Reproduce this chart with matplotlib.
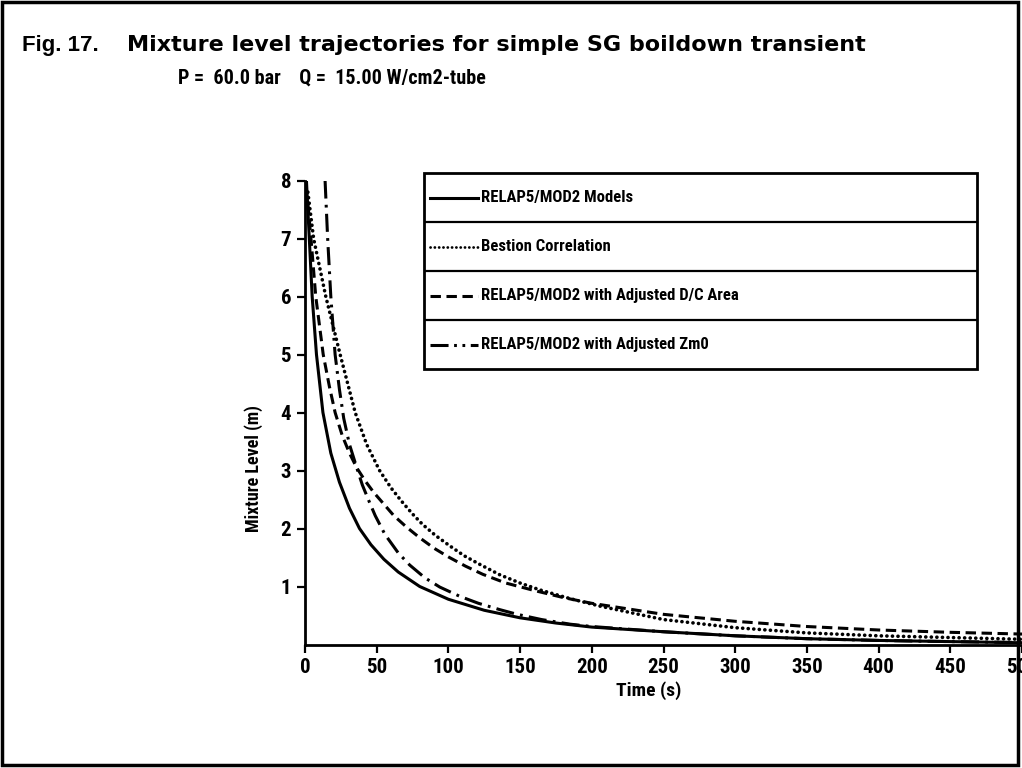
import matplotlib
matplotlib.use("Agg")
import matplotlib.pyplot as plt
from matplotlib import font_manager
from matplotlib.patches import Rectangle

# ---------------- data ----------------
fig_number = "Fig. 17."
title = "Mixture level trajectories for simple SG boildown transient"
subtitle = "P =  60.0 bar    Q =  15.00 W/cm2-tube"
x_label = "Time (s)"
y_label = "Mixture Level (m)"
x_ticks = [0, 50, 100, 150, 200, 250, 300, 350, 400, 450, 500]
x_tick_labels = ["0", "50", "100", "150", "200", "250", "300", "350", "400", "450", "500"]
y_ticks = [1, 2, 3, 4, 5, 6, 7, 8]
y_tick_labels = ["1", "2", "3", "4", "5", "6", "7", "8"]
series_names = ["RELAP5/MOD2 Models",
                "Bestion Correlation",
                "RELAP5/MOD2 with Adjusted D/C Area",
                "RELAP5/MOD2 with Adjusted Zm0"]

t_relap = [1, 3, 5, 8, 12.5, 18, 24, 31, 38, 46, 55, 65, 80, 100, 125, 150,
           175, 200, 250, 300, 350, 400, 450, 500]
y_relap = [8.0, 7.0, 6.0, 5.0, 4.0, 3.3, 2.8, 2.35, 2.0, 1.72, 1.47, 1.25, 1.0,
           0.78, 0.59, 0.46, 0.37, 0.30, 0.22, 0.15, 0.10, 0.07, 0.05, 0.03]

t_bestion = [2, 6, 14.5, 24.5, 35, 43, 52, 60, 67, 75, 82, 91, 101, 111, 122,
             136, 150, 164, 185, 206, 250, 300, 350, 400, 450, 500]
y_bestion = [7.8, 7.0, 6.0, 5.0, 4.0, 3.45, 3.0, 2.7, 2.48, 2.25, 2.07, 1.88,
             1.7, 1.53, 1.38, 1.2, 1.06, 0.94, 0.79, 0.66, 0.43, 0.29, 0.20,
             0.15, 0.12, 0.09]

t_dc_area = [2, 4.5, 7.5, 12.7, 17, 21, 26, 31, 36, 42, 48, 55, 62, 71, 80, 90,
             100, 112, 124, 140, 160, 180, 200, 250, 300, 350, 400, 450, 500]
y_dc_area = [7.6, 6.9, 6.0, 5.0, 4.45, 4.0, 3.6, 3.3, 3.05, 2.82, 2.62, 2.42,
             2.22, 2.02, 1.84, 1.66, 1.51, 1.35, 1.21, 1.06, 0.93, 0.81, 0.71,
             0.52, 0.40, 0.31, 0.25, 0.21, 0.18]

t_zm0 = [14, 15.8, 18, 21, 24, 27, 31, 36.7, 40, 45, 49, 55.7, 65, 73, 83.6,
         94, 108, 121, 136, 148, 165, 185, 200, 250, 300, 350, 400, 450, 500]
y_zm0 = [8.0, 7.0, 6.0, 5.0, 4.4, 3.9, 3.45, 3.0, 2.75, 2.45, 2.22, 1.9, 1.58,
         1.37, 1.15, 0.99, 0.83, 0.71, 0.60, 0.52, 0.43, 0.35, 0.31, 0.22,
         0.15, 0.10, 0.07, 0.05, 0.035]

# ---------------- fonts ----------------
plt.rcParams["lines.scale_dashes"] = False
names = {f.name for f in font_manager.fontManager.ttflist}
cond = {"family": "DejaVu Sans"}
for cand in ["Roboto Condensed", "Liberation Sans Narrow", "Open Sans Condensed"]:
    if cand in names:
        cond = {"family": cand}
        break
else:
    if any(f.name == "DejaVu Sans" and f.stretch == "condensed"
           for f in font_manager.fontManager.ttflist):
        cond = {"family": "DejaVu Sans", "fontstretch": "condensed"}

LW = 2.2
styles = [
    dict(color="black", lw=LW, linestyle="-"),
    dict(color="black", lw=2.6, linestyle=(0, (0.1, 3.9)), dash_capstyle="round"),
    dict(color="black", lw=LW, linestyle=(0, (7.5, 4.0)), dash_capstyle="butt"),
    dict(color="black", lw=LW, linestyle=(0, (13, 4.5, 2, 4.5)), dash_capstyle="butt"),
]
legend_styles = [
    styles[0],
    dict(color="black", lw=2.0, linestyle=(0, (0.1, 3.0)), dash_capstyle="round"),
    styles[2],
    dict(color="black", lw=LW, linestyle=(0, (13, 4, 2, 4, 2, 4)), dash_capstyle="butt"),
]

# ---------------- figure ----------------
W, H = 1022, 768
fig = plt.figure(figsize=(W / 100, H / 100), dpi=100)
fig.patch.set_facecolor("white")

# outer border
fig.add_artist(Rectangle((0.002, 0.004), 0.994, 0.993, transform=fig.transFigure,
                         fill=False, ec="black", lw=2.5))

fig.text(22 / W, 1 - 51 / H, fig_number, fontsize=16, fontweight="bold",
         family="Liberation Sans", va="baseline", ha="left")
fig.text(127 / W, 1 - 51 / H, title, fontsize=16, fontweight="bold",
         family="DejaVu Sans", va="baseline", ha="left")
fig.text(178 / W, 1 - 84 / H, subtitle, fontsize=14.5, fontweight="bold",
         va="baseline", ha="left", **cond)

ax_left, ax_bottom = 305 / W, 1 - 644.5 / H
ax = fig.add_axes([ax_left, ax_bottom, 1.0 - ax_left, (644.5 - 180.5) / H])
ax.set_xlim(0, 500)
ax.set_ylim(0, 8)

for (tt, yy), st in zip([(t_relap, y_relap), (t_bestion, y_bestion),
                         (t_dc_area, y_dc_area), (t_zm0, y_zm0)], styles):
    ax.plot(tt, yy, **st)

for s in ["top", "right"]:
    ax.spines[s].set_visible(False)
for s in ["left", "bottom"]:
    ax.spines[s].set_linewidth(2.0)

ax.set_xticks(x_ticks)
ax.set_xticklabels(x_tick_labels)
ax.set_yticks(y_ticks)
ax.set_yticklabels(y_tick_labels)
ax.tick_params(direction="out", length=6, width=1.6, pad=4, labelsize=15)
for lab in ax.get_xticklabels() + ax.get_yticklabels():
    lab.set_fontweight("bold")
    lab.set_family(cond["family"])
    if "fontstretch" in cond:
        lab.set_stretch(cond["fontstretch"])

ax.set_xlabel(x_label, fontsize=14, fontweight="bold", **cond)
ax.xaxis.set_label_coords(240 / 500, -0.08)
ax.set_ylabel(y_label, fontsize=13, fontweight="bold", **cond)
ax.yaxis.set_label_coords(-0.058, 0.38)

# ---------------- legend (boxed rows) ----------------
lx0, lx1, ly0, ly1 = 424, 977, 173, 369
lax = fig.add_axes([lx0 / W, 1 - ly1 / H, (lx1 - lx0) / W, (ly1 - ly0) / H])
lax.set_xlim(0, lx1 - lx0)
lax.set_ylim(0, 4)
lax.axis("off")
lax.add_patch(Rectangle((0, 0), lx1 - lx0, 4, fill=False, ec="black", lw=2.0,
                        clip_on=False))
for k in (1, 2, 3):
    lax.plot([0, lx1 - lx0], [k, k], color="black", lw=1.6)
for i, (name, st) in enumerate(zip(series_names, legend_styles)):
    yc = 3.5 - i
    lax.plot([6, 54], [yc, yc], **st)
    lax.text(57, yc, name, va="center", ha="left", fontsize=12,
             fontweight="bold", **cond)

fig.savefig("out.png", dpi=100)
